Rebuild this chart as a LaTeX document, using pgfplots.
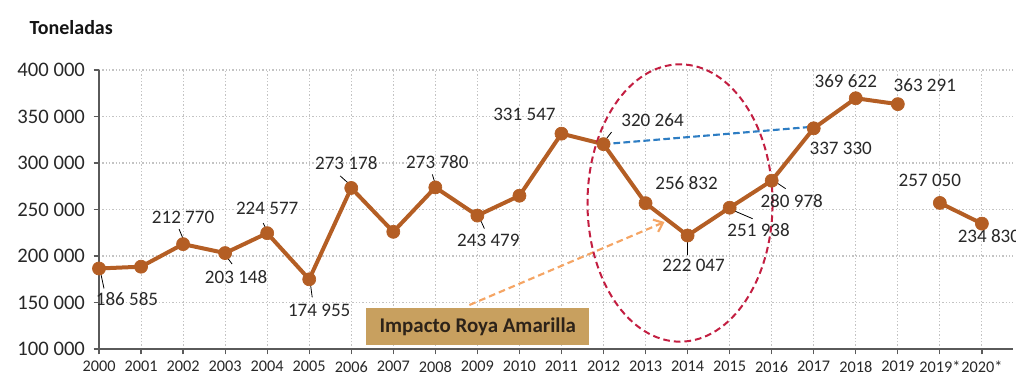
\documentclass[border=0pt]{standalone}
\usepackage{fontspec}
\setmainfont{Carlito}
\usepackage{pgfplots}
\pgfplotsset{compat=1.18}
\usetikzlibrary{arrows.meta}
\definecolor{cafe}{RGB}{180,94,36}
\definecolor{axisgray}{RGB}{90,90,90}
\definecolor{gridgray}{RGB}{195,195,195}
\definecolor{ticktext}{RGB}{40,40,40}
\definecolor{roja}{RGB}{195,30,65}
\definecolor{azul}{RGB}{45,125,195}
\definecolor{naranja}{RGB}{245,165,100}
\definecolor{caja}{RGB}{200,160,95}
\tikzset{lbl/.style={inner sep=0pt, text=ticktext, font=\fontsize{14.3}{16}\selectfont}}
\newcommand\lab[5]{\node[lbl] at ([shift={({#3*0.75pt},{-(#4)*0.75pt})}]axis cs:#1,#2) {#5};}
\newcommand\ld[6]{\draw[black, line width=0.6pt] ([shift={({#3*0.75pt},{-(#4)*0.75pt})}]axis cs:#1,#2) -- ([shift={({#5*0.75pt},{-(#6)*0.75pt})}]axis cs:#1,#2);}
\begin{document}
\begin{tikzpicture}
\begin{axis}[
  at={(0,0)}, anchor=south west,
  scale only axis, width=685.5pt, height=209.25pt,
  xmin=0, xmax=21.74, ymin=100000, ymax=400000,
  axis x line*=bottom, axis y line*=left,
  axis line style={draw=axisgray, line width=1.1pt},
  xtick={0,...,21},
  xticklabels={2000,2001,2002,2003,2004,2005,2006,2007,2008,2009,2010,2011,2012,2013,2014,2015,2016,2017,2018,2019,2019*,2020*},
  ytick={100000,150000,200000,250000,300000,350000,400000},
  yticklabels={100 000,150 000,200 000,250 000,300 000,350 000,400 000},
  scaled y ticks=false,
  tick align=outside, major tick length=4pt,
  tick style={draw=axisgray, line width=0.9pt},
  grid=major,
  major grid style={draw=gridgray, line width=0.8pt, dash pattern=on 1pt off 1.5pt},
  /pgf/number format/assume math mode=true,
  xticklabel style={font=\fontsize{12.2}{14}\selectfont, text=ticktext, yshift=-1.5pt},
  yticklabel style={font=\fontsize{15.5}{18}\selectfont, text=ticktext, xshift=-3pt},
  clip=false,
]
\draw[naranja, line width=1.6pt, dash pattern=on 5pt off 3pt, -{Straight Barb[length=6pt,width=10pt]}] (axis cs:8.81,147300) -- (axis cs:13.45,236560);
\draw[azul, line width=1.6pt, dash pattern=on 5pt off 2.5pt] (axis cs:12,320264) -- (axis cs:16.85,338500);
\addplot[cafe, line width=3pt, line join=round, mark=*, mark size=4.9pt, mark options={fill=cafe, draw=cafe, line width=0.5pt}] coordinates {
(0,186585)(1,188500)(2,212770)(3,203148)(4,224577)(5,174955)(6,273178)(7,226000)(8,273780)(9,243479)(10,264800)(11,331547)(12,320264)(13,256832)(14,222047)(15,251938)(16,280978)(17,337330)(18,369622)(19,363291)};
\addplot[cafe, line width=3pt, line join=round, mark=*, mark size=4.9pt, mark options={fill=cafe, draw=cafe, line width=0.5pt}] coordinates {
(20,257050)(21,234830)};
\draw[roja, line width=1.5pt, dash pattern=on 5pt off 3pt] (axis cs:13.82,257000) ellipse [x radius=69.4pt, y radius=104pt];
% leaders
\ld{0}{186585}{2}{6}{5}{20}
\ld{2}{212770}{1}{-3}{-4}{-15}
\ld{3}{203148}{1}{3}{7}{11}
\ld{4}{224577}{0}{-2}{-4}{-10}
\ld{5}{174955}{1}{3}{3}{18}
\ld{6}{273178}{-1}{-3}{-11}{-12}
\ld{8}{273780}{0}{-3}{-3}{-13}
\ld{9}{243479}{2}{2}{7}{13}
\ld{12}{320264}{1}{-3}{8}{-12}
\ld{14}{222047}{0}{3}{0}{19}
\ld{15}{251938}{2}{2}{23}{11}
\ld{16}{280978}{2}{0}{14}{8}
% labels
\lab{0}{186585}{28}{31}{186 585}
\lab{2}{212770}{0}{-27}{212 770}
\lab{3}{203148}{11}{24}{203 148}
\lab{4}{224577}{0}{-25}{224 577}
\lab{5}{174955}{10}{31}{174 955}
\lab{6}{273178}{-5}{-25}{273 178}
\lab{8}{273780}{2}{-25}{273 780}
\lab{9}{243479}{11}{25}{243 479}
\lab{11}{331547}{-37}{-19}{331 547}
\lab{12}{320264}{49}{-24}{320 264}
\lab{13}{256832}{41}{-20}{256 832}
\lab{14}{222047}{6}{30}{222 047}
\lab{15}{251938}{29}{22}{251 938}
\lab{16}{280978}{20}{20}{280 978}
\lab{17}{337330}{27}{20}{337 330}
\lab{18}{369622}{-10}{-17}{369 622}
\lab{19}{363291}{27}{-19}{363 291}
\lab{20}{257050}{-10}{-23}{257 050}
\lab{21}{234830}{7}{12}{234 830}
\node[fill=caja, minimum width=167pt, minimum height=27.75pt, inner sep=0pt, font=\bfseries\fontsize{15.7}{18}\selectfont, text={rgb,255:red,45;green,35;blue,25}] at (axis cs:9.01,124200) {Impacto Roya Amarilla};
\end{axis}
\node[anchor=west, font=\bfseries\fontsize{15}{18}\selectfont, text={rgb,255:red,20;green,20;blue,20}] at (-55.5pt,240.75pt) {Toneladas};
\pgfresetboundingbox
\path[use as bounding box] (-74.25pt,-20.25pt) rectangle (687.75pt,261.75pt);
\end{tikzpicture}
\end{document}
